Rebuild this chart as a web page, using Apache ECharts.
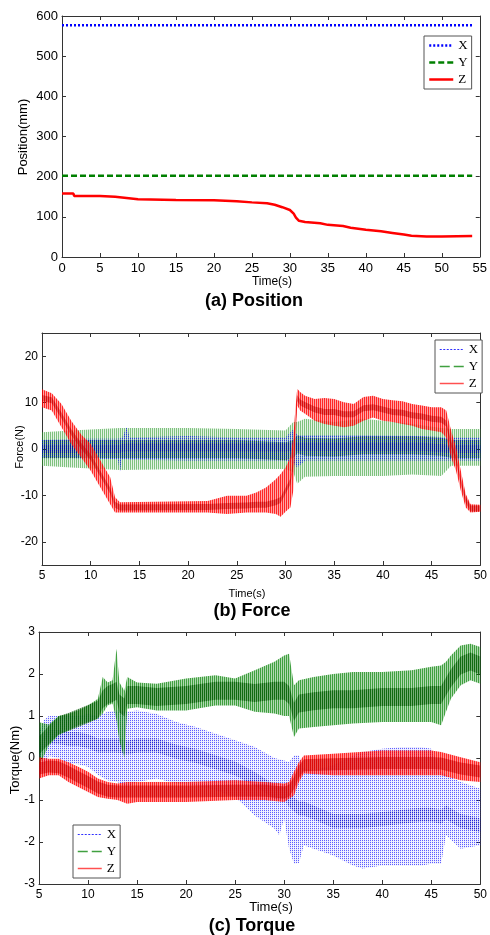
<!DOCTYPE html>
<html>
<head>
<meta charset="utf-8">
<script src="https://cdn.jsdelivr.net/npm/echarts@6/dist/echarts.min.js"></script>
<style>
    html,body{margin:0;padding:0;background:#fff;}
    #main{width:490px;height:935px;}
</style>
</head>
<body>
<div id="main"></div>
<script>
    // (a) position, mm
    var posLineTime = [0, 54];
    var posX = [577, 577];
    var posY = [202, 202];
    var posZTime = [0, 1.5, 1.6, 5, 7, 8.5, 10, 15, 20, 23, 25, 27, 28, 29, 30, 30.5, 30.8, 31.2, 32, 34, 35, 37, 38, 40, 42, 43.5, 45, 46, 48, 50, 54];
    var posZ = [158, 158, 152, 152, 150, 147, 144, 142, 141, 139, 136, 134, 130, 124, 117, 108, 98, 90, 87, 84, 80, 77, 73, 68, 64, 60, 56, 53, 51, 51, 52];

    // (b) force, N   rows: [time, low, core, high]
    var forceX = [
        [5, -2, 0, 2], [8, -2, 0, 2.2], [12.8, -2.2, 0, 2.2], [13, -5, 0, 2.3], [13.2, -2.2, 0.2, 2.3],
        [13.7, -2.2, 0.3, 4.7], [14, -2.3, 0.3, 2.5], [20, -2.5, 0.3, 2.8], [25, -2.5, 0.3, 2.5],
        [30, -2.5, 0.3, 2.5], [30.8, -3, 0.5, 4.2], [31.2, -4, 0.5, 3], [32, -2.5, 0.5, 3],
        [38, -2.5, 0.5, 3], [44, -2.5, 0.5, 2.8], [47, -2.5, 0, 2.5], [50, -2.5, 0, 2.5]
    ];
    var forceY = [
        [5, -3.6, 0, 3.6], [8, -4, 0, 4], [13, -4.5, 0, 4.5], [20, -4.3, 0, 4.5], [25, -4.3, 0, 4.3],
        [30, -4.3, -0.5, 4], [30.8, -5, 0, 5.8], [31.2, -7.5, 1, 5.8], [32, -6, 0.5, 6.5],
        [35, -5.8, 0.3, 5.8], [38, -5.8, 0.8, 6.5], [40, -5.8, 0.8, 6.1], [43, -5.5, 0.8, 5.4],
        [46, -5.8, 0.5, 4.5], [47, -3.6, 0, 4.3], [50, -3.6, 0, 4.3]
    ];
    var forceZ = [
        [5, 9, 11, 12.9], [6, 8.3, 10.5, 12], [7, 4.7, 7.2, 9.7], [8, 1.1, 3.6, 6.1], [9, -1.8, 0.7, 3.2],
        [10, -4.7, -1.8, 1.1], [11, -8.3, -5.4, -2.5], [12, -11.9, -9, -6.1], [12.5, -13.7, -12, -10.4],
        [13, -13.7, -12.6, -11.5], [22, -13.7, -12.5, -11.2], [24, -14, -12.3, -10.1], [26, -13.7, -12.2, -10.1],
        [27, -13.7, -12, -9.4], [28, -13.7, -12, -8.3], [29, -14, -11.5, -6.5], [29.5, -14.6, -11, -5.4],
        [30, -13.5, -9, -4], [30.5, -12.6, -7, -1.8], [30.8, -9, -3, 2.5], [31, 1.1, 4.7, 8.3],
        [31.2, 9.4, 11, 13], [31.5, 8.3, 10, 12.3], [32, 7.6, 9.5, 11.5], [33, 6.1, 8.5, 10.8],
        [34, 5.4, 8, 11], [35, 5, 8, 10.8], [36, 4.7, 7.5, 10.1], [37, 5, 7.5, 9.7], [38, 6.1, 8.8, 11.2],
        [39, 6.8, 9, 11.5], [40, 6.1, 8.5, 10.8], [41, 5.8, 8, 10.5], [42, 5.4, 7.8, 10.3], [43, 5, 7.3, 9.7],
        [44, 4.3, 7, 9.4], [45, 4, 6.5, 9], [46, 3.6, 6.3, 9], [46.5, 2.5, 5.5, 8.3], [47, -1.8, 1, 4],
        [47.5, -4.7, -2, 0.4], [48, -9, -7, -4.7], [48.5, -12.6, -11, -9.7], [49, -13.7, -12.8, -11.9],
        [50, -13.5, -12.8, -12]
    ];

    // (c) torque, Nm   rows: [time, low, core, high]
    var torqueX = [
        [5, -0.35, 0.1, 0.6], [5.5, -0.3, 0.4, 0.9], [6, 0.05, 0.5, 1.0], [7, 0, 0.5, 1.0], [8, -0.13, 0.45, 1.0],
        [9, -0.15, 0.45, 1.0], [10, -0.21, 0.4, 1.05], [11, -0.4, 0.3, 1.0], [12, -0.53, 0.3, 1.1],
        [13, -0.57, 0.3, 1.13], [14, -0.69, 0.25, 1.1], [15, -0.57, 0.3, 1.13], [17, -0.49, 0.3, 1.05],
        [19, -0.61, 0.15, 0.86], [21, -0.65, 0.05, 0.74], [23, -0.77, -0.1, 0.58], [25, -0.93, -0.25, 0.42],
        [27, -1.37, -0.5, 0.26], [29, -1.68, -0.8, 0], [29.5, -1.84, -0.85, -0.03], [30, -1.44, -0.8, -0.06],
        [30.5, -2.16, -1, -0.1], [31, -2.52, -1.1, 0.06], [31.5, -2.5, -1.2, 0.06], [32, -2.08, -1.2, -0.25],
        [33, -2.16, -1.3, -0.29], [35, -2.32, -1.5, -0.17], [37, -2.56, -1.5, 0.06], [38, -2.63, -1.5, 0.14],
        [40, -2.56, -1.45, 0.22], [42, -2.56, -1.4, 0.26], [44, -2.56, -1.35, 0.26], [45, -2.52, -1.35, 0.22],
        [46, -2.52, -1.4, -0.33], [46.5, -1.84, -1.3, -0.4], [48, -2.16, -1.5, -0.57], [50, -2.08, -1.6, -0.73]
    ];
    var torqueY = [
        [5, -0.2, 0.3, 0.85], [6, 0.3, 0.55, 0.8], [7, 0.54, 0.78, 1.0], [8, 0.66, 0.86, 1.05], [9, 0.78, 0.95, 1.13],
        [10, 0.86, 1.05, 1.25], [11, 0.94, 1.15, 1.41], [11.5, 1.06, 1.4, 1.93], [12, 1.25, 1.5, 1.8],
        [12.5, 1.3, 1.55, 1.85], [12.9, 0.9, 1.6, 2.6], [13.2, 0.4, 1.3, 1.8], [13.7, 0, 1.2, 1.6],
        [14, 1.17, 1.5, 1.93], [15, 1.21, 1.5, 1.8], [17, 1.13, 1.45, 1.77], [20, 1.13, 1.5, 1.89],
        [23, 1.25, 1.6, 1.97], [25, 1.25, 1.6, 1.89], [27, 1.1, 1.55, 2.09], [29, 1.06, 1.6, 2.29],
        [30, 1.0, 1.6, 2.44], [30.5, 1.0, 1.5, 2.48], [31, 0.5, 1.1, 1.73], [31.5, 0.7, 1.3, 1.85],
        [33, 0.74, 1.35, 1.93], [35, 0.78, 1.4, 2.0], [37, 0.82, 1.4, 2.05], [40, 0.86, 1.45, 2.05],
        [43, 0.86, 1.45, 2.09], [45, 0.86, 1.5, 2.17], [46, 0.78, 1.5, 2.2], [46.5, 1.1, 1.7, 2.29],
        [47, 1.41, 1.9, 2.44], [48, 1.73, 2.2, 2.68], [49, 1.85, 2.3, 2.72], [50, 1.77, 2.2, 2.64]
    ];
    var torqueZ = [
        [5, -0.49, -0.25, 0.02], [6, -0.41, -0.2, -0.02], [7, -0.41, -0.22, -0.02], [8, -0.57, -0.33, -0.1],
        [9, -0.69, -0.45, -0.21], [10, -0.81, -0.57, -0.33], [11, -0.93, -0.7, -0.49], [12, -0.97, -0.78, -0.57],
        [13, -1.0, -0.8, -0.61], [14, -1.09, -0.8, -0.57], [15, -1.05, -0.8, -0.57], [20, -1.05, -0.8, -0.57],
        [25, -1.0, -0.78, -0.53], [28, -1.0, -0.78, -0.57], [30, -1.05, -0.82, -0.61], [30.5, -0.97, -0.78, -0.57],
        [31, -0.89, -0.6, -0.33], [31.5, -0.57, -0.33, -0.1], [32, -0.37, -0.17, 0.06], [35, -0.41, -0.15, 0.1],
        [40, -0.41, -0.12, 0.18], [45, -0.41, -0.12, 0.18], [46, -0.41, -0.13, 0.14], [48, -0.53, -0.25, 0.02],
        [50, -0.57, -0.32, -0.1]
    ];

    var chart = echarts.init(document.getElementById('main'));
    var SANS = 'Liberation Sans';
    var FRAME = '#333';

    // small tiled pattern: alpha per pixel, rows x cols (vertical stripes / dots like the raw signal)
    function pat(color, grid) {
        var c = document.createElement('canvas');
        c.width = grid[0].length; c.height = grid.length;
        var ctx = c.getContext('2d');
        ctx.fillStyle = color;
        grid.forEach(function (row, y) {
            row.forEach(function (a, x) { ctx.globalAlpha = a; ctx.fillRect(x, y, 1, 1); });
        });
        return {image: c, repeat: 'repeat'};
    }

    function zip(t, v) {
        return t.map(function (x, i) { return [x, v[i]]; });
    }

    // band between low and high of the rows
    function band(rows, g, fill) {
        return {
            type: 'custom', xAxisIndex: g * 2, yAxisIndex: g * 2, silent: true,
            data: rows, encode: {x: 0, y: [1, 3]},
            renderItem: function (params, api) {
                if (params.dataIndex !== 0) return null;
                var pts = [];
                rows.forEach(function (r) { pts.push(api.coord([r[0], r[3]])); });
                for (var i = rows.length - 1; i >= 0; i--) pts.push(api.coord([rows[i][0], rows[i][1]]));
                return {type: 'polygon', shape: {points: pts}, style: {fill: fill}};
            }
        };
    }

    // denser middle of the signal, a strip of half-height h px round the core value
    function coreBand(rows, g, h, fill) {
        return {
            type: 'custom', xAxisIndex: g * 2, yAxisIndex: g * 2, silent: true,
            data: rows, encode: {x: 0, y: 2},
            renderItem: function (params, api) {
                if (params.dataIndex !== 0) return null;
                var c = rows.map(function (r) { return api.coord([r[0], r[2]]); });
                var pts = c.map(function (p) { return [p[0], p[1] - h]; });
                for (var i = c.length - 1; i >= 0; i--) pts.push([c[i][0], c[i][1] + h]);
                return {type: 'polygon', shape: {points: pts}, style: {fill: fill}};
            }
        };
    }

    // empty line series, only to give the legend its entries
    function key(name, g) {
        return {name: name, type: 'line', xAxisIndex: g * 2, yAxisIndex: g * 2, data: [], symbol: 'none'};
    }

    function axesX(g, min, max, step, fs) {
        var base = {
            type: 'value', gridIndex: g, min: min, max: max, interval: step,
            axisLine: {onZero: false, lineStyle: {color: FRAME}},
            axisTick: {inside: true, length: 4, lineStyle: {color: FRAME}},
            splitLine: {show: false}
        };
        return [
            Object.assign({}, base, {position: 'bottom',
                axisLabel: {color: '#000', fontSize: fs, fontFamily: SANS, margin: 5}}),
            Object.assign({}, base, {position: 'top', axisLabel: {show: false}})
        ];
    }

    function axesY(g, min, max, step, fs) {
        var base = {
            type: 'value', gridIndex: g, min: min, max: max,
            axisLine: {show: true, onZero: false, lineStyle: {color: FRAME}},
            axisTick: {show: true, inside: true, length: 4, lineStyle: {color: FRAME}},
            splitLine: {show: false}
        };
        if (step) base.interval = step; else base.splitNumber = 5;
        return [
            Object.assign({}, base, {position: 'left',
                axisLabel: {color: '#000', fontSize: fs, fontFamily: SANS, margin: 4,
                    showMinLabel: !!step, showMaxLabel: !!step}}),
            Object.assign({}, base, {position: 'right', axisLabel: {show: false}})
        ];
    }

    function legendBox(left, top, names, styles) {
        return {
            left: left, top: top, orient: 'vertical', selectedMode: false,
            padding: [3, 4, 3, 4], itemGap: 4, itemWidth: 24, itemHeight: 12,
            borderColor: '#555', borderWidth: 1, backgroundColor: '#fff',
            textStyle: {fontFamily: 'Liberation Serif', fontSize: 13, color: '#000'},
            formatter: function (n) { return n.split('_')[0]; },
            data: names.map(function (n, i) {
                return {name: n, itemStyle: {opacity: 0}, lineStyle: Object.assign({opacity: 1}, styles[i])};
            })
        };
    }

    function text(str, x, y, font, rot) {
        return {
            type: 'text', x: x, y: y, rotation: rot || 0, z: 100, silent: true,
            style: {text: str, font: font, fill: '#000', align: 'center', verticalAlign: 'middle'}
        };
    }

    var thinStyles = [
        {color: '#3030ff', width: 1, type: [2, 1.5]},
        {color: '#40a040', width: 1.5, type: [10, 4]},
        {color: '#ff5050', width: 1.5, type: 'solid'}
    ];

    var option = {
        animation: false,
        backgroundColor: '#fff',
        grid: [
            {left: 62, top: 16, width: 420, height: 241},
            {left: 42, top: 333, width: 442, height: 232},
            {left: 39, top: 632, width: 450, height: 252}
        ],
        xAxis: [].concat(axesX(0, 0, 55, 5, 13), axesX(1, 5, 50, 5, 12), axesX(2, 5, 50, 5, 12)),
        yAxis: [].concat(axesY(0, 0, 600, 100, 13), axesY(1, -25, 25, null, 12), axesY(2, -3, 3, 1, 12)),
        legend: [
            legendBox(424, 36, ['X_a', 'Y_a', 'Z_a'], [
                {color: '#0000ff', width: 2.5, type: [2, 2]},
                {color: '#008000', width: 2.5, type: [6, 3]},
                {color: '#ff0000', width: 2.5, type: 'solid'}
            ]),
            legendBox(435, 340, ['X_b', 'Y_b', 'Z_b'], thinStyles),
            legendBox(73, 825, ['X_c', 'Y_c', 'Z_c'], thinStyles)
        ],
        graphic: [
            text('Time(s)', 272, 282, '12px ' + SANS),
            text('(a) Position', 254, 301, 'bold 18px ' + SANS),
            text('Position(mm)', 23, 137, '13px ' + SANS, Math.PI / 2),
            text('Time(s)', 247, 594, '11px ' + SANS),
            text('(b) Force', 252, 611, 'bold 18px ' + SANS),
            text('Force(N)', 20, 447, '11px ' + SANS, Math.PI / 2),
            text('Time(s)', 271, 907, '13px ' + SANS),
            text('(c) Torque', 252, 926, 'bold 18px ' + SANS),
            text('Torque(Nm)', 15, 760, '13px ' + SANS, Math.PI / 2)
        ],
        series: [
            {name: 'X_a', type: 'line', data: zip(posLineTime, posX), symbol: 'none',
                lineStyle: {color: '#0000ff', width: 2.5, type: [2, 2]}},
            {name: 'Y_a', type: 'line', data: zip(posLineTime, posY), symbol: 'none',
                lineStyle: {color: '#008000', width: 2.5, type: [6, 3]}},
            {name: 'Z_a', type: 'line', data: zip(posZTime, posZ), symbol: 'none',
                lineStyle: {color: '#ff0000', width: 2.5}},

            // force: green under, blue dots over it, red on top
            band(forceY, 1, pat('#2a9a2a', [[0.6, 0.12]])),
            coreBand(forceY, 1, 9, pat('#006000', [[0.8, 0.2]])),
            band(forceX, 1, pat('#0000ff', [[0.7, 0.04], [0.2, 0.04]])),
            coreBand(forceX, 1, 4, pat('#0000b0', [[0.75, 0.08], [0.4, 0.08]])),
            band(forceZ, 1, pat('#ff0000', [[0.85, 0.35]])),
            coreBand(forceZ, 1, 3, pat('#c80000', [[0.7, 0.4]])),
            key('X_b', 1), key('Y_b', 1), key('Z_b', 1),

            // torque
            band(torqueX, 2, pat('#1a1aff', [[0.7, 0.05], [0.12, 0.05]])),
            coreBand(torqueX, 2, 7, pat('#0000c0', [[0.6, 0.1], [0.25, 0.05]])),
            band(torqueY, 2, pat('#008000', [[0.75, 0.3]])),
            coreBand(torqueY, 2, 9, pat('#005800', [[0.75, 0.35]])),
            band(torqueZ, 2, pat('#ff0000', [[0.85, 0.4]])),
            coreBand(torqueZ, 2, 6, pat('#d00000', [[0.75, 0.45]])),
            key('X_c', 2), key('Y_c', 2), key('Z_c', 2)
        ]
    };
    chart.setOption(option);
</script>
</body>
</html>
